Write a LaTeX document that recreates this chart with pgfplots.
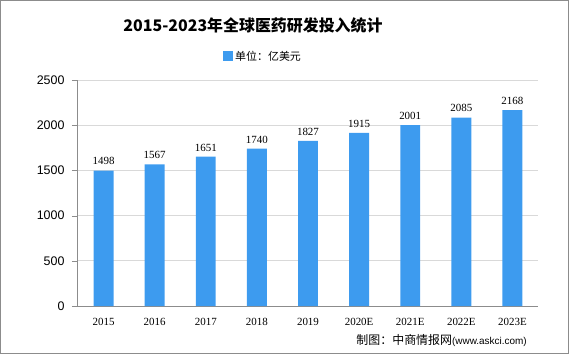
\documentclass[border=0pt]{standalone}
\usepackage{pgfplots}
\pgfplotsset{compat=1.18}
\usepackage{fontspec}
\setmainfont{Liberation Sans}
\newfontfamily\cjk{Noto Sans CJK SC}
\newfontfamily\serifd{Liberation Serif}
\definecolor{barblue}{HTML}{3D9BEF}
\definecolor{axgray}{HTML}{8C8C8C}
\definecolor{gridgray}{HTML}{D9D9D9}
\begin{document}
\begin{tikzpicture}
\useasboundingbox (-78bp,306bp) rectangle (491bp,-48bp);
\begin{axis}[
  at={(0,0)}, anchor=south west,
  scale only axis,
  width=460bp, height=226bp,
  xmin=-0.5, xmax=8.5,
  ymin=0, ymax=2500,
  ytick={0,500,1000,1500,2000,2500},
  xtick={0,...,8},
  xticklabels={2015,2016,2017,2018,2019,2020E,2021E,2022E,2023E},
  extra x ticks={-0.5,0.5,...,8.5},
  extra x tick labels={},
  extra x tick style={major tick length=5bp, tick style={draw=axgray}},
  x tick label style={font=\serifd\fontsize{11}{11}\selectfont, yshift=-3bp},
  y tick label style={font=\fontsize{12.5}{12.5}\selectfont, xshift=-4bp},
  /pgf/number format/assume math mode=true,
  /pgf/number format/1000 sep={},
  axis x line*=bottom,
  axis y line*=left,
  axis line style={draw=axgray, line width=1bp},
  ymajorgrids, grid style={draw=gridgray, line width=0.8bp},
  major x tick style={draw=none},
  ytick style={draw=axgray},
  major tick length=6bp,
  tick align=outside,
  ybar, bar width=0.39,
  nodes near coords,
  nodes near coords style={font=\serifd\fontsize{11}{11}\selectfont, text=black, yshift=2bp},
  clip=false,
]
\addplot[fill=barblue, draw=none] coordinates {(0,1498) (1,1567) (2,1651) (3,1740) (4,1827) (5,1915) (6,2001) (7,2085) (8,2168)};
\end{axis}
% title
\node[font=\cjk\bfseries\fontsize{16}{16}\selectfont] at (175bp,281bp) {2015-2023年全球医药研发投入统计};
% legend
\fill[barblue] (145bp,245bp) rectangle (154.5bp,254.5bp);
\node[anchor=west, font=\cjk\fontsize{11}{11}\selectfont, inner sep=0pt] at (157bp,249.5bp) {单位：亿美元};
% footer
\node[anchor=east, inner sep=0pt] at (449bp,-34bp) {{\cjk\fontsize{12}{12}\selectfont 制图：中商情报网}{\fontsize{10}{10}\selectfont (www.askci.com)}};
% border
\draw[draw=axgray, line width=1.2bp] (-77.4bp,305.4bp) rectangle (490.4bp,-47.4bp);
\end{tikzpicture}
\end{document}
